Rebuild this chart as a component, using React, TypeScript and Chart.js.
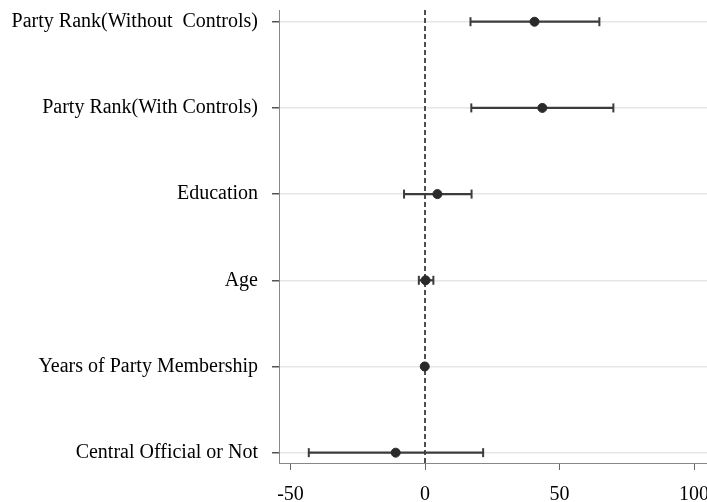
import React, { useEffect, useRef } from "react";
import { Chart, registerables } from "chart.js";

Chart.register(...registerables);

const categories = [
  "Party Rank(Without  Controls)",
  "Party Rank(With Controls)",
  "Education",
  "Age",
  "Years of Party Membership",
  "Central Official or Not",
];
const estimates = [40.7, 43.6, 4.6, 0.2, -0.1, -10.9];
const lower = [16.9, 17.2, -7.8, -2.3, -0.5, -43.2];
const upper = [64.8, 70.0, 17.3, 3.1, 0.3, 21.6];
const xTicks = [-50, 0, 50, 100];

const FONT = "'Liberation Serif', 'Times New Roman', serif";

export default function App() {
  const ref = useRef<HTMLCanvasElement | null>(null);

  useEffect(() => {
    document.body.style.margin = "0";
    const canvas = ref.current;
    if (!canvas) return;

    const errorSets = categories.map((_, i) => ({
      type: "scatter" as const,
      data: [
        { x: lower[i], y: i },
        { x: upper[i], y: i },
      ],
      showLine: true,
      borderColor: "#3c3c3c",
      borderWidth: 2.2,
      pointStyle: "line" as const,
      rotation: 90,
      pointRadius: 4.5,
      pointBorderColor: "#3c3c3c",
      pointBorderWidth: 2,
      order: 2,
    }));

    const zeroLine = {
      id: "zeroLine",
      beforeDatasetsDraw(chart: any) {
        const { ctx, chartArea, scales } = chart;
        const x = scales.x.getPixelForValue(0);
        ctx.save();
        ctx.strokeStyle = "#3a3a3a";
        ctx.lineWidth = 1.8;
        ctx.setLineDash([5, 3]);
        ctx.beginPath();
        ctx.moveTo(x, chartArea.top);
        ctx.lineTo(x, chartArea.bottom);
        ctx.stroke();
        ctx.restore();
      },
    };

    const noPad = (s: any) => {
      s.paddingTop = 0;
      s.paddingBottom = 0;
      s.paddingLeft = 0;
      s.paddingRight = 0;
    };

    const chart = new Chart(canvas, {
      type: "scatter",
      data: {
        datasets: [
          {
            data: estimates.map((v, i) => ({ x: v, y: i })),
            backgroundColor: "#2a2a2a",
            borderColor: "#2a2a2a",
            pointRadius: 4.5,
            order: 1,
          },
          ...errorSets,
        ] as any,
      },
      options: {
        animation: false,
        responsive: false,
        maintainAspectRatio: false,
        layout: { autoPadding: false, padding: { top: 10, right: 0, left: 0, bottom: 0 } },
        plugins: { legend: { display: false }, tooltip: { enabled: false } },
        scales: {
          x: {
            type: "linear",
            min: -54.27,
            max: 104.8,
            afterBuildTicks: (s: any) => {
              s.ticks = xTicks.map((v) => ({ value: v }));
            },
            afterFit: (s: any) => {
              s.height = 39;
              noPad(s);
            },
            grid: {
              drawOnChartArea: false,
              drawTicks: true,
              tickLength: 7,
              tickColor: "#666",
              color: "#666",
            },
            border: { display: true, color: "#888", width: 1 },
            ticks: {
              color: "#000",
              font: { family: FONT, size: 20 },
              padding: 13,
              autoSkip: false,
              maxRotation: 0,
              callback: (v: any) => String(v),
            },
          },
          y: {
            type: "linear",
            reverse: true,
            min: -0.136,
            max: 5.12,
            afterBuildTicks: (s: any) => {
              s.ticks = categories.map((_, i) => ({ value: i }));
            },
            afterFit: (s: any) => {
              s.width = 279;
              noPad(s);
            },
            grid: {
              drawOnChartArea: true,
              drawTicks: true,
              tickLength: 7,
              color: "#e6e6e6",
              lineWidth: 1.5,
              tickColor: "#555",
            },
            border: { display: true, color: "#888", width: 1 },
            ticks: {
              color: "#000",
              font: { family: FONT, size: 20 },
              padding: 14,
              autoSkip: false,
              callback: (v: any) => categories[v as number] ?? "",
            },
          },
        },
      },
      plugins: [zeroLine],
    });

    return () => chart.destroy();
  }, []);

  return (
    <div style={{ width: 707, height: 502, background: "#fff" }}>
      <canvas ref={ref} width={707} height={502} style={{ display: "block" }} />
    </div>
  );
}
